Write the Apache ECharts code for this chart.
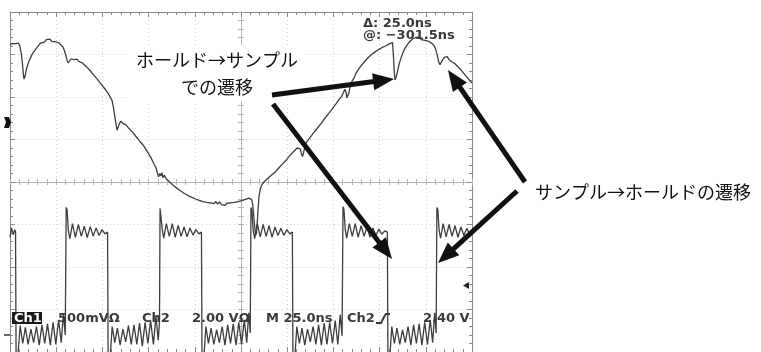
<!DOCTYPE html>
<html>
<head>
<meta charset="utf-8">
<script src="https://cdn.jsdelivr.net/npm/echarts@6/dist/echarts.min.js"></script>
<style>
  html, body { margin: 0; padding: 0; background: #fff; }
  #scope { width: 761px; height: 352px; }
</style>
</head>
<body>
<div id="scope"></div>
<script>
// Horizontal: time in ns (25 ns/div, 10 divisions). Vertical: screen divisions (-4 .. +4).
const timeRange = [0, 250];
const nsPerDiv = 25;
const divRange = [-4, 4];

// Ch1 (500 mV/div): sampled output with hold->sample / sample->hold glitches
const ch1Trace = [
  [0,3.22],[1.1,3.26],[2.2,3.25],[3.2,3.29],[4.3,3.27],[5.2,3.22],[6.0,3.05],[6.6,2.85],[7.2,2.55],[7.6,2.42],
  [8.2,2.50],[8.8,2.64],[9.6,2.76],[10.4,2.86],[11.4,2.95],[12.4,3.04],[13.4,3.08],[14.6,3.16],[15.6,3.22],[16.6,3.27],
  [17.6,3.31],[18.6,3.29],[19.6,3.35],[20.6,3.32],[21.6,3.36],[22.6,3.31],[23.6,3.34],[24.6,3.30],[25.6,3.33],[26.6,3.27],
  [27.6,3.25],[28.6,3.18],[29.4,3.10],[30.2,2.98],[30.9,2.86],[31.5,2.80],[32.2,2.84],[33.0,2.90],[33.8,2.93],[34.6,2.88],
  [35.4,2.92],[36.3,2.89],[37.2,2.84],[38.2,2.87],[39.2,2.80],[40.2,2.79],[41.2,2.72],[42.2,2.73],[43.2,2.63],[44.2,2.64],
  [45.2,2.52],[46.2,2.54],[47.2,2.42],[48.2,2.44],[49.2,2.31],[50.2,2.33],[51.2,2.20],[52.2,2.22],[53.2,2.08],[54.2,2.05],
  [55.2,1.92],[56.0,1.75],[56.7,1.55],[57.4,1.35],[57.9,1.22],[58.5,1.28],[59.2,1.38],[60.1,1.43],[60.9,1.38],[61.7,1.41],
  [62.6,1.35],[63.5,1.37],[64.4,1.26],[65.3,1.29],[66.2,1.18],[67.2,1.20],[68.2,1.07],[69.2,1.09],[70.2,0.96],[71.2,0.97],
  [72.2,0.86],[73.2,0.88],[74.2,0.72],[75.2,0.74],[76.2,0.58],[77.2,0.56],[78.2,0.40],[79.0,0.34],[79.8,0.20],[80.4,0.12],
  [81.0,0.20],[81.6,0.14],[82.2,0.22],[82.8,0.10],[83.6,0.16],[84.4,0.08],[85.4,0.07],[86.4,0.00],[87.4,-0.01],[88.4,-0.08],
  [89.4,-0.09],[90.4,-0.15],[91.4,-0.16],[92.4,-0.21],[93.4,-0.21],[94.4,-0.27],[95.4,-0.27],[96.4,-0.32],[97.4,-0.30],[98.4,-0.36],
  [99.4,-0.34],[100.4,-0.40],[101.4,-0.37],[102.4,-0.43],[103.4,-0.41],[104.4,-0.46],[105.4,-0.43],[106.4,-0.48],[107.4,-0.44],[108.4,-0.49],
  [109.4,-0.45],[110.4,-0.51],[111.4,-0.46],[112.4,-0.52],[113.4,-0.47],[114.4,-0.53],[115.4,-0.49],[116.4,-0.55],[117.4,-0.50],[118.4,-0.54],
  [119.4,-0.49],[120.4,-0.53],[121.4,-0.48],[122.4,-0.51],[123.4,-0.46],[124.4,-0.49],[125.4,-0.44],[126.4,-0.46],[127.4,-0.41],[128.4,-0.44],
  [129.4,-0.38],[130.2,-0.36],[130.8,-0.42],[131.4,-0.55],[131.9,-0.80],[132.4,-1.05],[132.9,-1.25],[133.4,-1.20],[133.8,-0.95],[134.3,-0.60],
  [134.8,-0.32],[135.5,-0.15],[136.4,-0.06],[137.4,0.00],[138.4,0.02],[139.4,0.08],[140.4,0.10],[141.4,0.16],[142.4,0.17],[143.4,0.23],
  [144.4,0.25],[145.4,0.33],[146.4,0.34],[147.4,0.42],[148.4,0.44],[149.4,0.51],[150.4,0.54],[151.4,0.62],[152.4,0.64],[153.4,0.71],
  [154.4,0.73],[155.4,0.80],[156.4,0.84],[157.1,0.78],[157.7,0.66],[158.3,0.60],[158.9,0.70],[159.6,0.84],[160.4,0.93],[161.4,0.97],
  [162.4,1.05],[163.4,1.08],[164.4,1.16],[165.4,1.19],[166.4,1.27],[167.4,1.30],[168.4,1.38],[169.4,1.41],[170.4,1.50],[171.4,1.52],
  [172.4,1.61],[173.4,1.63],[174.4,1.72],[175.4,1.76],[176.4,1.84],[177.4,1.88],[178.4,1.96],[179.4,2.01],[180.4,2.10],[181.2,2.18],
  [181.8,2.12],[182.3,1.98],[182.8,1.94],[183.4,2.10],[184.2,2.28],[185.2,2.38],[186.2,2.45],[187.2,2.56],[188.2,2.60],[189.2,2.69],
  [190.2,2.72],[191.2,2.80],[192.2,2.82],[193.2,2.90],[194.2,2.91],[195.2,2.98],[196.2,2.99],[197.2,3.05],[198.2,3.06],[199.2,3.11],
  [200.2,3.12],[201.2,3.16],[202.2,3.16],[203.2,3.20],[204.2,3.21],[205.2,3.25],[206.2,3.25],[207.0,3.28],[207.5,2.95],[208.0,2.55],
  [208.4,2.40],[209.0,2.48],[209.8,2.62],[210.6,2.78],[211.6,2.92],[212.6,3.04],[213.6,3.14],[214.6,3.20],[215.6,3.27],[216.6,3.30],
  [217.6,3.36],[218.6,3.33],[219.6,3.40],[220.6,3.36],[221.6,3.41],[222.6,3.35],[223.6,3.39],[224.6,3.33],[225.6,3.37],[226.6,3.31],
  [227.6,3.31],[228.6,3.25],[229.6,3.20],[230.4,3.12],[231.2,2.98],[232.0,2.82],[232.7,2.76],[233.4,2.82],[234.2,2.88],[235.0,2.93],
  [235.8,2.89],[236.6,2.95],[237.4,2.89],[238.2,2.88],[239.0,2.83],[239.8,2.86],[240.6,2.79],[241.4,2.77],[242.4,2.71],[243.4,2.69],
  [244.4,2.62],[245.4,2.58],[246.4,2.51],[247.4,2.48],[248.4,2.41],[249.4,2.38],[250,2.33]
];

// Ch2 (2.00 V/div): sample/hold control clock with ringing
const ch2Trace = [
  [0,-1.30],[0.8,-1.08],[1.7,-1.24],[2.6,-1.12],[3.0,-1.18],[3.3,-4.20],
  [4.4,-4.02],[5.5,-3.38],[6.9,-3.80],[8.3,-3.42],[9.8,-3.82],[11.3,-3.46],[12.8,-3.78],[14.3,-3.40],[15.8,-3.84],[17.3,-3.36],
  [18.8,-3.80],[20.3,-3.34],[21.8,-3.84],[23.3,-3.30],[24.8,-3.82],[26.3,-3.24],[27.7,-3.78],[28.9,-3.10],[29.9,-3.60],
  [30.4,-0.60],[30.9,-0.66],[31.6,-1.15],[32.4,-1.33],[33.8,-0.98],[35.4,-1.30],[37.0,-1.00],[38.6,-1.28],[40.2,-1.04],[41.8,-1.31],
  [43.4,-1.05],[45.0,-1.27],[46.6,-1.08],[48.2,-1.26],[49.8,-1.12],[51.4,-1.22],[52.8,-1.18],[53.1,-4.20],
  [54.4,-4.00],[55.3,-3.40],[56.7,-3.78],[58.1,-3.44],[59.6,-3.84],[61.1,-3.46],[62.6,-3.76],[64.1,-3.38],[65.6,-3.82],[67.1,-3.36],
  [68.6,-3.82],[70.1,-3.32],[71.6,-3.86],[73.1,-3.30],[74.6,-3.80],[76.1,-3.26],[77.6,-3.82],[79.0,-3.16],[80.2,-3.72],[80.9,-3.30],
  [81.2,-0.62],[81.7,-0.66],[82.4,-1.12],[83.2,-1.32],[84.6,-0.98],[86.2,-1.28],[87.8,-0.98],[89.4,-1.30],[91.0,-1.02],[92.6,-1.28],
  [94.2,-1.06],[95.8,-1.29],[97.4,-1.08],[99.0,-1.25],[100.6,-1.12],[102.2,-1.22],[103.6,-1.18],[103.9,-4.20],
  [105.1,-4.00],[106.0,-3.40],[107.4,-3.80],[108.8,-3.44],[110.3,-3.82],[111.8,-3.48],[113.3,-3.78],[114.8,-3.40],[116.3,-3.84],[117.8,-3.36],
  [119.3,-3.80],[120.8,-3.34],[122.3,-3.84],[123.8,-3.30],[125.3,-3.82],[126.8,-3.24],[128.1,-3.78],[129.2,-3.08],[130.0,-3.55],
  [130.4,-0.60],[130.9,-0.66],[131.6,-1.14],[132.4,-1.33],[133.8,-0.98],[135.4,-1.29],[137.0,-1.00],[138.6,-1.28],[140.2,-1.03],[141.8,-1.30],
  [143.4,-1.06],[145.0,-1.26],[146.6,-1.09],[148.2,-1.26],[149.8,-1.12],[151.4,-1.22],[152.8,-1.18],[153.1,-4.20],
  [154.3,-4.02],[155.2,-3.40],[156.6,-3.80],[158.0,-3.44],[159.5,-3.84],[161.0,-3.46],[162.5,-3.76],[164.0,-3.40],[165.5,-3.82],[167.0,-3.36],
  [168.5,-3.84],[170.0,-3.32],[171.5,-3.82],[173.0,-3.30],[174.5,-3.80],[176.0,-3.26],[177.4,-3.82],[178.7,-3.12],[179.7,-3.62],
  [180.2,-0.58],[180.7,-0.64],[181.4,-1.12],[182.2,-1.32],[183.6,-0.98],[185.2,-1.28],[186.8,-0.98],[188.4,-1.30],[190.0,-1.03],[191.6,-1.28],
  [193.2,-1.06],[194.8,-1.30],[196.4,-1.08],[198.0,-1.26],[199.6,-1.11],[201.2,-1.23],[202.8,-1.15],[204.2,-1.18],[204.5,-4.20],
  [205.7,-4.00],[206.6,-3.40],[208.0,-3.80],[209.4,-3.44],[210.9,-3.82],[212.4,-3.48],[213.9,-3.78],[215.4,-3.40],[216.9,-3.84],[218.4,-3.36],
  [219.9,-3.80],[221.4,-3.34],[222.9,-3.84],[224.4,-3.30],[225.9,-3.82],[227.4,-3.24],[228.7,-3.78],[229.8,-3.08],[230.6,-3.55],
  [231.0,-0.60],[231.5,-0.65],[232.2,-1.13],[233.0,-1.32],[234.4,-0.98],[236.0,-1.29],[237.6,-1.00],[239.2,-1.28],[240.8,-1.03],[242.4,-1.30],
  [244.0,-1.06],[245.6,-1.26],[247.2,-1.09],[248.8,-1.25],[250,-1.14]
];

// On-screen readouts
const cursorReadout = ['\u0394: 25.0ns', '@: \u2212301.5ns'];
const statusReadout = ['500mV\u03a9', 'Ch2', '2.00 V\u03a9', 'M 25.0ns', 'Ch2', '2.40 V'];
const noteHoldToSample = 'ホールド→サンプル\nでの遷移';
const noteSampleToHold = 'サンプル→ホールドの遷移';

const chart = echarts.init(document.getElementById('scope'), null, { renderer: 'canvas' });

const screen = { left: 10, top: 12, width: 462, height: 342 };
const frameColor = '#8a8a8a';
const centerColor = '#b4b4b4';
const traceColor = '#3e3e3e';
const readFont = 'bold 13px "DejaVu Sans", Verdana, sans-serif';

function borderAxis(isX, position) {
  return {
    type: 'value', gridIndex: 0, position: position,
    min: isX ? timeRange[0] : divRange[0], max: isX ? timeRange[1] : divRange[1],
    interval: isX ? nsPerDiv : 1,
    axisLine: { show: true, onZero: false, lineStyle: { color: frameColor, width: 1 } },
    axisTick: { show: true, inside: true, length: 5, lineStyle: { color: frameColor } },
    minorTick: { show: true, splitNumber: 5, length: 3, lineStyle: { color: frameColor } },
    axisLabel: { show: false },
    splitLine: { show: false }
  };
}
function centerAxis(isX, grid, inside) {
  const half = (timeRange[1] - timeRange[0]) / 2;
  return {
    type: 'value', gridIndex: grid,
    min: isX ? -half : divRange[0], max: isX ? half : divRange[1],
    interval: isX ? nsPerDiv : 1,
    axisLine: { show: true, onZero: true, lineStyle: { color: centerColor, width: 1 } },
    axisTick: { show: true, inside: inside, length: 3, lineStyle: { color: centerColor } },
    minorTick: { show: true, splitNumber: 5, length: 3, lineStyle: { color: centerColor } },
    axisLabel: { show: false },
    splitLine: { show: false }
  };
}

const dotted = { show: true, lineStyle: { color: '#cfcfcf', type: [1, 3], width: 1 } };
const gridX = borderAxis(true, 'bottom');
gridX.splitLine = dotted;
const gridY = borderAxis(false, 'left');
gridY.splitLine = dotted;

function arrow(x1, y1, x2, y2) {
  const dx = x2 - x1, dy = y2 - y1, len = Math.hypot(dx, dy);
  const ux = dx / len, uy = dy / len;
  const headLen = 21, headHalf = 8.5;
  const bx = x2 - ux * headLen, by = y2 - uy * headLen;
  return [
    { type: 'line', z: 120, shape: { x1: x1, y1: y1, x2: bx + ux * 3, y2: by + uy * 3 },
      style: { stroke: '#111', lineWidth: 5 } },
    { type: 'polygon', z: 121, shape: { points: [[x2, y2], [bx - uy * headHalf, by + ux * headHalf], [bx + uy * headHalf, by - ux * headHalf]] },
      style: { fill: '#111' } }
  ];
}

const graphics = [
  // cursor readouts
  { type: 'text', z: 110, left: 363, top: 17, style: { text: cursorReadout[0], font: readFont, fill: '#3a3a3a' } },
  { type: 'text', z: 110, left: 363, top: 29, style: { text: cursorReadout[1], font: readFont, fill: '#3a3a3a' } },
  // status line
  { type: 'rect', z: 110, shape: { x: 12, y: 312, width: 30, height: 12 }, style: { fill: '#1a1a1a' } },
  { type: 'text', z: 111, left: 14, top: 312, style: { text: 'Ch1', font: readFont, fill: '#ffffff' } },
  { type: 'text', z: 110, left: 58, top: 312, style: { text: statusReadout[0], font: readFont, fill: '#3a3a3a' } },
  { type: 'text', z: 110, left: 142, top: 312, style: { text: statusReadout[1], font: readFont, fill: '#3a3a3a' } },
  { type: 'text', z: 110, left: 192, top: 312, style: { text: statusReadout[2], font: readFont, fill: '#3a3a3a' } },
  { type: 'text', z: 110, left: 266, top: 312, style: { text: statusReadout[3], font: readFont, fill: '#3a3a3a' } },
  { type: 'text', z: 110, left: 347, top: 312, style: { text: statusReadout[4], font: readFont, fill: '#3a3a3a' } },
  { type: 'polyline', z: 110, shape: { points: [[376, 323], [381, 323], [384, 317], [386, 314], [390, 314]] },
    style: { stroke: '#3a3a3a', lineWidth: 2, fill: null } },
  { type: 'text', z: 110, left: 423, top: 312, style: { text: statusReadout[5], font: readFont, fill: '#3a3a3a' } },
  // channel and trigger markers
  { type: 'polygon', z: 110, shape: { points: [[4, 117], [9, 117], [11, 122], [9, 128], [4, 128], [6, 122]] }, style: { fill: '#111' } },
  { type: 'line', z: 110, shape: { x1: 4, y1: 335, x2: 10, y2: 335 }, style: { stroke: '#333', lineWidth: 1.5 } },
  { type: 'polygon', z: 110, shape: { points: [[463, 285.5], [469, 282], [469, 289]] }, style: { fill: '#222' } },
  // annotations
  { type: 'rect', z: 115, shape: { x: 128, y: 45, width: 178, height: 56 }, style: { fill: '#ffffff' } },
  { type: 'text', z: 116, x: 217, y: 74, style: { text: noteHoldToSample, font: '18px "Noto Sans CJK JP"', fill: '#111',
      align: 'center', verticalAlign: 'middle', lineHeight: 27 } },
  { type: 'text', z: 116, x: 535, y: 192, style: { text: noteSampleToHold, font: '18px "Noto Sans CJK JP"', fill: '#111',
      align: 'left', verticalAlign: 'middle' } }
].concat(
  arrow(272, 95, 394, 79),
  arrow(273, 104, 392, 259),
  arrow(525, 182, 448, 70),
  arrow(517, 191, 438, 263)
);

chart.setOption({
  animation: false,
  backgroundColor: '#ffffff',
  grid: [
    Object.assign({ show: false }, screen),
    Object.assign({ show: false }, screen),
    Object.assign({ show: false }, screen)
  ],
  xAxis: [
    gridX,
    borderAxis(true, 'top'),
    centerAxis(true, 1, true),
    centerAxis(true, 2, false)
  ],
  yAxis: [
    gridY,
    borderAxis(false, 'right'),
    centerAxis(false, 1, true),
    centerAxis(false, 2, false)
  ],
  series: [
    { name: 'Ch1', type: 'line', xAxisIndex: 0, yAxisIndex: 0, data: ch1Trace, showSymbol: false, clip: true,
      lineStyle: { color: traceColor, width: 1.3 }, z: 5 },
    { name: 'Ch2', type: 'line', xAxisIndex: 0, yAxisIndex: 0, data: ch2Trace, showSymbol: false, clip: true,
      lineStyle: { color: traceColor, width: 1.3 }, z: 5 }
  ],
  graphic: graphics
});
</script>
</body>
</html>
